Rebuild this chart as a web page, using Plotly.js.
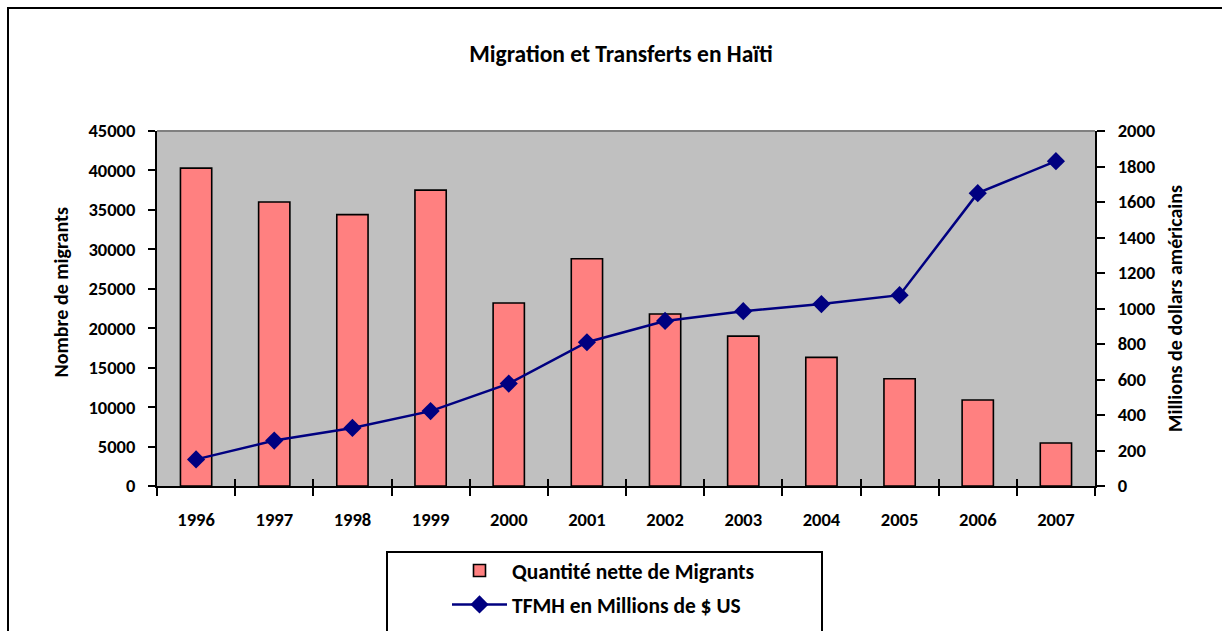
<!DOCTYPE html>
<html>
<head>
<meta charset="utf-8">
<script src="https://cdn.plot.ly/plotly-3.0.1.min.js"></script>
<style>html,body{margin:0;padding:0;background:#fff;}#chart{width:1222px;height:631px;}</style>
</head>
<body>
<div id="chart"></div>
<script>
var years = ['1996','1997','1998','1999','2000','2001','2002','2003','2004','2005','2006','2007'];
var migrants = [40300, 36000, 34400, 37500, 23200, 28800, 21800, 19000, 16300, 13600, 10900, 5450];
var transfers = [150, 256, 327, 422, 577, 810, 930, 985, 1025, 1075, 1650, 1830];
var leftTicks = [0,5000,10000,15000,20000,25000,30000,35000,40000,45000];
var rightTicks = [0,200,400,600,800,1000,1200,1400,1600,1800,2000];

var FONT = 'Carlito, Lato, "Open Sans", sans-serif';
var W = 1222, H = 631;
var L = 157, R = 1095, T = 131, B = 486;
function px(x){ return (x - L) / (R - L); }
function py(y){ return (B - y) / (B - T); }

var barTrace = {
  type: 'bar', x: years, y: migrants, name: 'Quantité nette de Migrants',
  xaxis: 'x', yaxis: 'y', legendgroup: 'a',
  marker: {color: '#FF8080', line: {color: '#000000', width: 1.6}},
  hoverinfo: 'x+y'
};
var lineTrace = {
  type: 'scatter', mode: 'lines+markers', x: years, y: transfers,
  name: 'TFMH en Millions de $ US', xaxis: 'x2', yaxis: 'y2', legendgroup: 'b',
  line: {color: '#000080', width: 2.5},
  marker: {symbol: 'diamond', size: 14, color: '#000080'},
  cliponaxis: false
};

var tickFont = {family: FONT, size: 18.5, color: '#000', weight: 'bold'};
var titleFont = {family: FONT, size: 20, color: '#000', weight: 'bold'};
var catRange = [-0.5, years.length - 0.5];

var layout = {
  width: W, height: H,
  margin: {l: L, r: W - R, t: T, b: H - B, pad: 0, autoexpand: false},
  paper_bgcolor: '#ffffff', plot_bgcolor: '#C0C0C0',
  bargap: 0.6,
  showlegend: true,
  title: {text: 'Migration et Transferts en Haïti', font: {family: FONT, size: 23.5, color: '#000', weight: 'bold'},
          x: 621 / W, xref: 'container', xanchor: 'center', y: 1 - 54 / H, yref: 'container', yanchor: 'middle'},
  xaxis: {type: 'category', categoryarray: years, range: catRange, autorange: false,
          showline: true, linecolor: '#000', linewidth: 2,
          ticks: 'outside', tickson: 'boundaries', ticklen: 8, tickwidth: 2, tickcolor: '#000',
          ticklabelstandoff: 16, tickfont: tickFont, showgrid: false, zeroline: false, fixedrange: true},
  xaxis2: {type: 'category', categoryarray: years, range: catRange, autorange: false,
           overlaying: 'x', side: 'bottom',
           showline: false, ticks: 'inside', tickson: 'boundaries', ticklen: 7, tickwidth: 2, tickcolor: '#000',
           showticklabels: false, showgrid: false, zeroline: false},
  yaxis: {range: [0, 45000], autorange: false, tickvals: leftTicks, ticktext: leftTicks.map(String),
          showline: true, linecolor: '#000', linewidth: 2,
          ticks: 'outside', ticklen: 7, tickwidth: 2, tickcolor: '#000', ticklabelstandoff: 9,
          tickfont: tickFont, showgrid: false, zeroline: false},
  yaxis2: {range: [0, 2000], autorange: false, tickvals: rightTicks, ticktext: rightTicks.map(String),
           overlaying: 'y', side: 'right',
           showline: true, linecolor: '#000', linewidth: 2,
           ticks: 'outside', ticklen: 8, tickwidth: 2, tickcolor: '#000', ticklabelstandoff: 9,
           tickfont: tickFont, showgrid: false, zeroline: false,
           title: {text: 'Millions de dollars américains', font: titleFont, standoff: 14}},
  yaxis3: {range: [0, 45000], autorange: false, overlaying: 'y', side: 'left', tickvals: leftTicks,
           ticks: 'inside', ticklen: 7, tickwidth: 2, tickcolor: '#000', showticklabels: false,
           showline: false, showgrid: false, zeroline: false},
  yaxis4: {range: [0, 2000], autorange: false, overlaying: 'y', side: 'right', tickvals: rightTicks,
           ticks: 'inside', ticklen: 7, tickwidth: 2, tickcolor: '#000', showticklabels: false,
           showline: false, showgrid: false, zeroline: false},
  annotations: [
    {text: 'Nombre de migrants', xref: 'paper', yref: 'paper', x: px(60), y: py(292.5),
     xanchor: 'center', yanchor: 'middle', textangle: -90, showarrow: false, font: titleFont}
  ],
  legend: {x: 447 / W, xanchor: 'left', xref: 'container', y: 1 - 550 / H, yanchor: 'top', yref: 'container',
           orientation: 'v', traceorder: 'grouped', tracegroupgap: 3, itemwidth: 55,
           bgcolor: 'rgba(0,0,0,0)', borderwidth: 0,
           font: {family: FONT, size: 21.5, color: '#000', weight: 'bold'}},
  shapes: [
    {type: 'line', xref: 'paper', yref: 'paper', x0: 0, x1: 1, y0: 1, y1: 1, line: {color: '#808080', width: 2}},
    {type: 'rect', xref: 'paper', yref: 'paper', x0: px(8), x1: px(1240), y0: py(650), y1: py(8),
     line: {color: '#000', width: 2}, fillcolor: 'rgba(0,0,0,0)'},
    {type: 'rect', xref: 'paper', yref: 'paper', x0: px(387), x1: px(822), y0: py(650), y1: py(552),
     line: {color: '#000', width: 2}, fillcolor: 'rgba(0,0,0,0)'}
  ]
};

Plotly.newPlot('chart', [barTrace, lineTrace], layout, {displayModeBar: false, staticPlot: true});
</script>
</body>
</html>
